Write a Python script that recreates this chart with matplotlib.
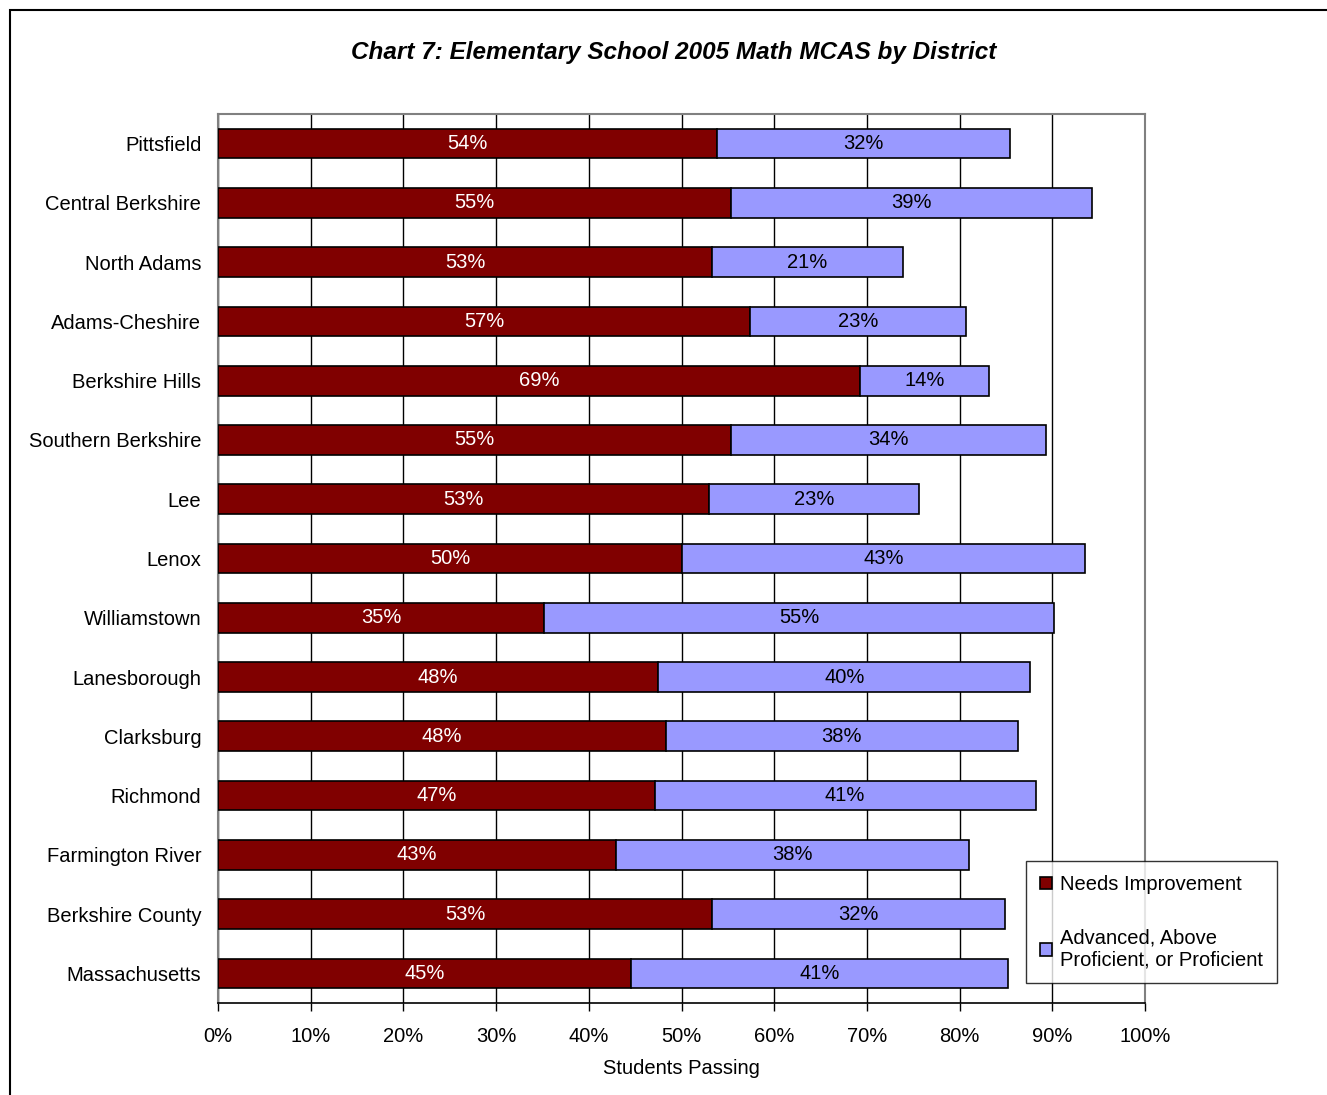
import matplotlib.pyplot as plt
from matplotlib.patches import Rectangle

plt.rcParams['font.family'] = ['Liberation Sans', 'DejaVu Sans']

# Data (percent of students)
districts = ['Pittsfield', 'Central Berkshire', 'North Adams', 'Adams-Cheshire',
             'Berkshire Hills', 'Southern Berkshire', 'Lee', 'Lenox', 'Williamstown',
             'Lanesborough', 'Clarksburg', 'Richmond', 'Farmington River',
             'Berkshire County', 'Massachusetts']
needs_improvement = [53.8, 55.3, 53.3, 57.4, 69.3, 55.3, 53.0, 50.1, 35.2,
                     47.5, 48.3, 47.1, 42.9, 53.3, 44.6]
proficient = [31.6, 39.0, 20.6, 23.3, 13.9, 34.0, 22.6, 43.4, 55.0,
              40.1, 38.0, 41.1, 38.1, 31.6, 40.6]
xticks = list(range(0, 101, 10))

red = '#800000'
blue = '#9999FF'
fs = 14.5

fig = plt.figure(figsize=(13.27, 10.95), dpi=100)
ax = fig.add_axes([218 / 1327, 1 - 1003 / 1095, (1145 - 218) / 1327, (1003 - 114) / 1095])

ypos = list(range(len(districts)))
ax.barh(ypos, needs_improvement, height=0.5, color=red, edgecolor='black',
        linewidth=1.2, label='Needs Improvement', zorder=3)
ax.barh(ypos, proficient, left=needs_improvement, height=0.5, color=blue,
        edgecolor='black', linewidth=1.2,
        label='Advanced, Above\nProficient, or Proficient', zorder=3)

for y, a, b in zip(ypos, needs_improvement, proficient):
    ax.text(a / 2, y, f'{a:.0f}%', color='white', ha='center', va='center',
            fontsize=fs, zorder=4)
    ax.text(a + b / 2, y, f'{b:.0f}%', color='black', ha='center', va='center',
            fontsize=fs, zorder=4)

ax.set_ylim(len(districts) - 0.5, -0.5)
ax.set_xlim(0, 100)
ax.set_yticks(ypos)
ax.set_yticklabels(districts, fontsize=fs)
ax.tick_params(axis='y', length=0, pad=12)
ax.set_xticks(xticks)
ax.set_xticklabels([f'{t}%' for t in xticks], fontsize=fs)
ax.tick_params(axis='x', direction='out', length=6, width=1, pad=11)
ax.grid(True, axis='x', color='black', linewidth=1, zorder=0)
ax.set_axisbelow(True)

for side in ['top', 'right', 'left']:
    ax.spines[side].set_color('#808080')
    ax.spines[side].set_linewidth(1.5)
ax.spines['bottom'].set_color('black')
ax.spines['bottom'].set_linewidth(1.2)

ax.set_xlabel('Students Passing', fontsize=fs, labelpad=10)
fig.text(674 / 1327, 1 - 52 / 1095, 'Chart 7: Elementary School 2005 Math MCAS by District',
         ha='center', va='center', fontsize=17.5, fontweight='bold', style='italic')

leg = fig.legend(loc='upper left', bbox_to_anchor=(1026 / 1327, 1 - 861 / 1095),
                 fontsize=fs, frameon=True, fancybox=False, edgecolor='black',
                 handlelength=0.6, handleheight=0.6, handletextpad=0.4,
                 labelspacing=1.7, borderpad=0.7, borderaxespad=0)
leg.get_frame().set_linewidth(1)

# outer chart border
fig.add_artist(Rectangle((10 / 1327, -0.05), 1.1, 1 - 10 / 1095 + 0.05,
                         transform=fig.transFigure, fill=False,
                         edgecolor='black', linewidth=1.5))

fig.savefig('out.png', dpi=100)
